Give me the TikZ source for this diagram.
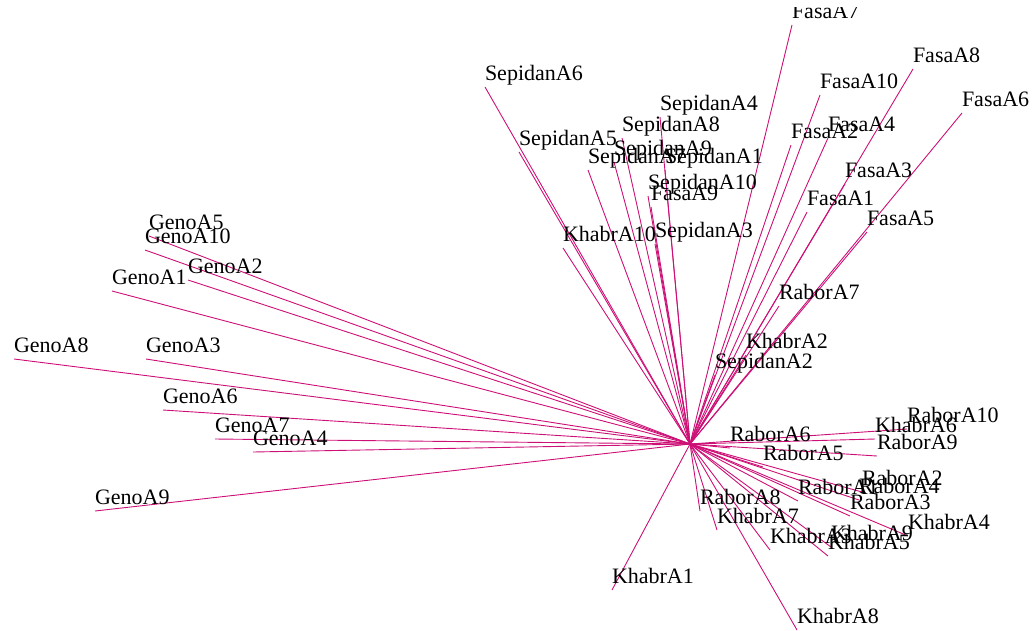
\documentclass[tikz,border=0pt]{standalone}
\usepackage{fontspec}
\setmainfont{Liberation Serif}
\definecolor{edgecol}{RGB}{205,16,118}
\tikzset{
  edge/.style={draw=edgecol, line width=0.9pt},
  lbl/.style={anchor=base west, inner sep=0pt, outer sep=0pt, text=black, font=\fontsize{22}{24}\selectfont}
}
\newcommand\leafedge[3]{\coordinate (t#1) at (#2,#3); \draw[edge] (c) -- (t#1);}
\newcommand\leaflabel[4]{\node[lbl] (n#1) at (#2,#3-7) {#4};}
\begin{document}
\begin{tikzpicture}[x=1pt,y=-1pt]
\useasboundingbox (0,0) rectangle (1036,630);
\coordinate (c) at (690,444);
% edges
\foreach \n/\x/\y in {FA7/792/25, FA8/913/69, FA10/820/95, FA6/962/113, FA2/791/145, FA4/828/138, FA3/845/184, FA1/807/212, FA5/867/232, FA9/651/207,
  SA6/485/87, SA4/660/117, SA8/622/138, SA5/519/152, SA9/614/162, SA7/588/170, SA1/665/170, SA10/648/196, SA3/655/244, SA2/715/375,
  KA10/563/248, KA2/746/355, KA1/612/590, KA8/797/630, KA7/717/530, KA3/770/550, KA9/831/547, KA5/828/556, KA4/908/536, KA6/875/439,
  RA7/779/306, RA6/730/448, RA5/763/467, RA10/907/429, RA9/877/456, RA2/862/492, RA4/859/500, RA1/798/501, RA3/850/516, RA8/700/511,
  GA5/149/236, GA10/145/250, GA2/188/280, GA1/112/291, GA8/14/359, GA3/146/359, GA6/163/410, GA7/215/439, GA4/253/452, GA9/95/511}
  {\leafedge{\n}{\x}{\y}}
% labels
\begin{scope}
\clip (0,7) rectangle (1036,630);
\leaflabel{FA7}{792}{25}{FasaA7}
\end{scope}
\foreach \n/\x/\y/\t in {FA8/913/69/FasaA8, FA10/820/95/FasaA10, FA6/962/113/FasaA6, FA2/791/145/FasaA2, FA4/828/138/FasaA4, FA3/845/184/FasaA3, FA1/807/212/FasaA1, FA5/867/232/FasaA5, FA9/651/207/FasaA9,
  SA6/485/87/SepidanA6, SA4/660/117/SepidanA4, SA8/622/138/SepidanA8, SA5/519/152/SepidanA5, SA9/614/162/SepidanA9, SA7/588/170/SepidanA7, SA1/665/170/SepidanA1, SA10/648/196/SepidanA10, SA3/655/244/SepidanA3, SA2/715/375/SepidanA2,
  KA10/563/248/KhabrA10, KA2/746/355/KhabrA2, KA1/612/590/KhabrA1, KA8/797/630/KhabrA8, KA7/717/530/KhabrA7, KA3/770/550/KhabrA3, KA9/831/547/KhabrA9, KA5/828/556/KhabrA5, KA4/908/536/KhabrA4, KA6/875/439/KhabrA6,
  RA7/779/306/RaborA7, RA6/730/448/RaborA6, RA5/763/467/RaborA5, RA10/907/429/RaborA10, RA9/877/456/RaborA9, RA2/862/492/RaborA2, RA4/859/500/RaborA4, RA1/798/501/RaborA1, RA3/850/516/RaborA3, RA8/700/511/RaborA8,
  GA5/149/236/GenoA5, GA10/145/250/GenoA10, GA2/188/280/GenoA2, GA1/112/291/GenoA1, GA8/14/359/GenoA8, GA3/146/359/GenoA3, GA6/163/410/GenoA6, GA7/215/439/GenoA7, GA4/253/452/GenoA4, GA9/95/511/GenoA9}
  {\leaflabel{\n}{\x}{\y}{\t}}
\end{tikzpicture}
\end{document}
